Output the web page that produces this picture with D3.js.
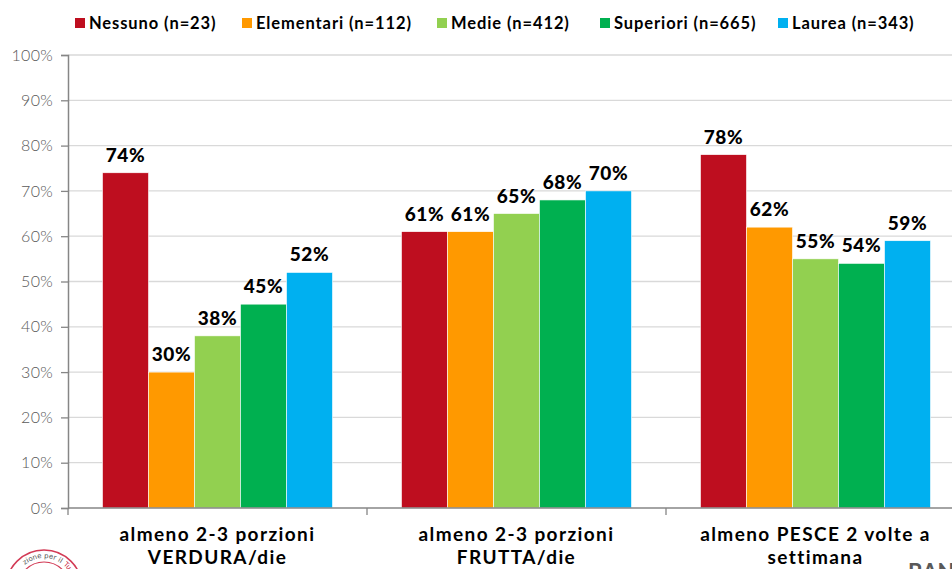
<!DOCTYPE html>
<html>
<head>
<meta charset="utf-8">
<script src="https://cdn.jsdelivr.net/npm/d3@7/dist/d3.min.js"></script>
<style>
  html, body { margin: 0; padding: 0; background: #fff; }
  svg { display: block; }
</style>
</head>
<body>
<svg id="chart" width="952" height="569"></svg>
<script>
// ---- DATA ----
const categories = [
  ["almeno 2-3 porzioni", "VERDURA/die"],
  ["almeno 2-3 porzioni", "FRUTTA/die"],
  ["almeno PESCE 2 volte a", "settimana"]
];
const seriesNames = ["Nessuno (n=23)", "Elementari (n=112)", "Medie (n=412)", "Superiori (n=665)", "Laurea (n=343)"];
const seriesColors = ["#BE0E1F", "#FF9900", "#92D050", "#00B050", "#00B0F0"];
const nessuno    = [74, 61, 78];
const elementari = [30, 61, 62];
const medie      = [38, 65, 55];
const superiori  = [45, 68, 54];
const laurea     = [52, 70, 59];
const yTicks = [0, 10, 20, 30, 40, 50, 60, 70, 80, 90, 100];

const seriesValues = [nessuno, elementari, medie, superiori, laurea];

// ---- LAYOUT ----
const svg = d3.select("#chart");
const mLeft = 68, mRight = 965, mTop = 55, mBottom = 508;
const FONT = "'Lato', 'DejaVu Sans', sans-serif";

const catIdx = categories.map((c, i) => i);
const x = d3.scaleBand().domain(catIdx).range([mLeft, mRight]).paddingInner(0).paddingOuter(0);
const xs = d3.scaleBand().domain(d3.range(seriesNames.length)).range([0, x.bandwidth()]).paddingInner(0).paddingOuter(0.75);
const y = d3.scaleLinear().domain([0, 100]).range([mBottom, mTop]);

// gridlines
svg.append("g")
  .selectAll("line")
  .data(yTicks.filter(t => t > 0))
  .join("line")
  .attr("x1", mLeft).attr("x2", 952)
  .attr("y1", d => y(d)).attr("y2", d => y(d))
  .attr("stroke", "#D9D9D9").attr("stroke-width", 1.3);

// bars
const groups = svg.append("g").selectAll("g")
  .data(catIdx).join("g")
  .attr("transform", i => `translate(${x(i)},0)`);

groups.selectAll("rect")
  .data(i => seriesValues.map((vals, s) => ({ s, v: vals[i] })))
  .join("rect")
  .attr("x", d => xs(d.s))
  .attr("width", xs.bandwidth())
  .attr("y", d => y(d.v))
  .attr("height", d => y(0) - y(d.v))
  .attr("fill", d => seriesColors[d.s])
  .attr("stroke", "#fff").attr("stroke-width", 0.6);

groups.selectAll("text.val")
  .data(i => seriesValues.map((vals, s) => ({ s, v: vals[i] })))
  .join("text")
  .attr("class", "val")
  .attr("x", d => xs(d.s) + xs.bandwidth() / 2)
  .attr("y", d => y(d.v) - 11)
  .attr("text-anchor", "middle")
  .attr("font-family", FONT)
  .attr("font-weight", 900)
  .attr("font-size", 19)
  .attr("letter-spacing", 0.6)
  .attr("fill", "#000")
  .text(d => d.v + "%");

// y axis
const yAxis = d3.axisLeft(y).tickValues(yTicks).tickSize(7).tickPadding(8).tickFormat(d => d + "%");
const gy = svg.append("g").attr("transform", `translate(${mLeft},0)`).call(yAxis);
gy.select(".domain").attr("stroke", "#868686").attr("stroke-width", 1.5);
gy.selectAll(".tick line").attr("stroke", "#868686").attr("stroke-width", 1.3);
gy.selectAll(".tick text")
  .attr("font-family", FONT)
  .attr("font-size", 16)
  .attr("font-weight", 300)
  .attr("letter-spacing", 0.3)
  .attr("fill", "#595959");

// x axis
const gx = svg.append("g").attr("transform", `translate(0,${mBottom})`);
gx.append("line").attr("x1", mLeft).attr("x2", 952).attr("y1", 0).attr("y2", 0)
  .attr("stroke", "#868686").attr("stroke-width", 1.5);
gx.selectAll("line.tk")
  .data(catIdx.concat([categories.length]))
  .join("line").attr("class", "tk")
  .attr("x1", i => i < categories.length ? x(i) : x(i - 1) + x.bandwidth())
  .attr("x2", i => i < categories.length ? x(i) : x(i - 1) + x.bandwidth())
  .attr("y1", 0).attr("y2", 7)
  .attr("stroke", "#868686").attr("stroke-width", 1.3);

const catLabels = gx.selectAll("text.cat")
  .data(catIdx).join("text").attr("class", "cat")
  .attr("x", i => x(i) + x.bandwidth() / 2)
  .attr("y", 33)
  .attr("text-anchor", "middle")
  .attr("font-family", FONT)
  .attr("font-weight", "bold")
  .attr("font-size", 19)
  .attr("letter-spacing", 1.4)
  .attr("fill", "#000");
catLabels.selectAll("tspan")
  .data(i => categories[i])
  .join("tspan")
  .attr("x", function () { return d3.select(this.parentNode).attr("x"); })
  .attr("dy", (d, k) => k === 0 ? 0 : 23)
  .text(d => d);

// legend
const legendX = [75, 242, 437, 600, 778];
const lg = svg.append("g").selectAll("g")
  .data(seriesNames).join("g")
  .attr("transform", (d, i) => `translate(${legendX[i]},18)`);
lg.append("rect").attr("width", 10).attr("height", 10)
  .attr("fill", (d, i) => seriesColors[i]);
lg.append("text").attr("x", 14).attr("y", 11)
  .attr("font-family", FONT).attr("font-weight", "bold").attr("font-size", 16.5)
  .attr("letter-spacing", 0.9)
  .attr("fill", "#000")
  .text(d => d);

// logo (partial stamp at bottom-left)
const logo = svg.append("g").attr("transform", "translate(44,588)");
logo.append("circle").attr("r", 38).attr("fill", "none").attr("stroke", "#D23A55").attr("stroke-width", 1.5);
logo.append("circle").attr("r", 26).attr("fill", "none").attr("stroke", "#D23A55").attr("stroke-width", 1.2);
logo.append("path").attr("id", "logoArc")
  .attr("d", "M-30,0 A30,30 0 0,1 30,0")
  .attr("fill", "none");
logo.append("text").attr("font-family", "'DejaVu Sans', sans-serif").attr("font-size", 7).attr("fill", "#555")
  .append("textPath").attr("href", "#logoArc").attr("startOffset", "69%").attr("text-anchor", "end")
  .text("zione per il");
logo.append("text").attr("font-family", "'DejaVu Sans', sans-serif").attr("font-size", 7).attr("fill", "#C8102E")
  .append("textPath").attr("href", "#logoArc").attr("startOffset", "72%").attr("text-anchor", "start")
  .text("Tu");

// partial text at bottom-right
svg.append("text").attr("x", 908).attr("y", 580)
  .attr("font-family", FONT).attr("font-weight", "bold").attr("font-size", 22)
  .attr("fill", "#595959").text("BAN");
</script>
</body>
</html>
